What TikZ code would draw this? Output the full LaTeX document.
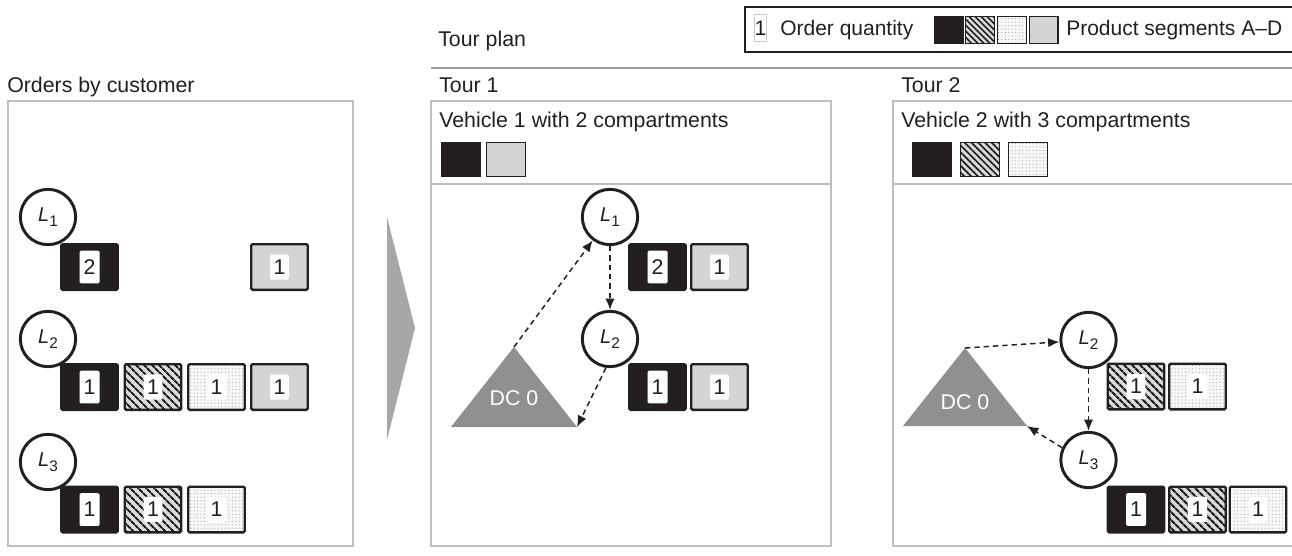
\documentclass[tikz,border=0pt]{standalone}
\usepackage{fontspec}
\setmainfont{Liberation Sans}
\usepackage{tikz}
\usetikzlibrary{positioning,patterns.meta,arrows.meta}

\definecolor{ink}{RGB}{35,31,32}
\definecolor{segDgray}{RGB}{212,212,214}
\definecolor{dcgray}{RGB}{143,144,146}
\definecolor{chevrongray}{RGB}{167,167,169}

\newcommand{\custlabel}[1]{{\itshape L}\raisebox{-3.5pt}{\fontsize{11.5}{12}\selectfont #1}}

\begin{document}
\begin{tikzpicture}[x=0.75pt, y=-0.75pt,
        every node/.style={font=\fontsize{16}{19}\selectfont, text=ink},
        title/.style={anchor=base west, inner sep=0},
        panel/.style={draw=gray!50, line width=1pt},
        cust/.style={circle, draw=ink, line width=2.2pt, fill=white, minimum size=41.5pt, inner sep=0, font=\fontsize{15}{16}\selectfont},
        hatchfill/.style={preaction={fill=gray!30}, pattern={Lines[angle=-45,distance=4pt,line width=1.6pt]}, pattern color=ink},
        dotfill/.style={preaction={fill=gray!6}, pattern={Dots[distance=2.6pt,radius=0.35pt]}, pattern color=gray},
        seg/.style={draw=ink, line width=1.8pt, rounded corners=1pt, minimum width=42.4pt, minimum height=34.2pt, inner sep=0},
        segA/.style={seg, fill=ink},
        segB/.style={seg, hatchfill},
        segC/.style={seg, dotfill},
        segD/.style={seg, fill=segDgray},
        qty/.style={fill=white, inner sep=0, rounded corners=1pt, minimum width=14pt, minimum height=19pt},
        qtyA/.style={qty, minimum width=15pt, minimum height=24.5pt},
        comp/.style={draw=ink, line width=1pt, minimum width=29pt, minimum height=25.3pt, inner sep=0},
        keysq/.style={draw=ink, line width=1pt, minimum width=21.5pt, minimum height=20pt, inner sep=0},
        route/.style={ink, line width=1.1pt, dash pattern=on 4pt off 3pt, -{Latex[length=8.5pt,width=7pt]}},
        dc/.style={fill=dcgray}
    ]
    \useasboundingbox (0,0) rectangle (1292,556);

    % legend
    \draw[ink, line width=1.1pt] (745,7) rectangle (1300,52);
    \node[draw=gray!40, line width=0.5pt, minimum width=8.5pt, minimum height=20pt, inner sep=0, font=\fontsize{15.75}{19}\selectfont] (keyqty) at (760.5,28) {1};
    \node[title, font=\fontsize{15.75}{19}\selectfont] (keyqtytext) at (780,36) {Order quantity};
    \node[keysq, fill=ink] (keyA) at (948.5,30) {};
    \node[keysq, preaction={fill=gray!30}, pattern={Lines[angle=-45,distance=3.2pt,line width=1.2pt]}, pattern color=ink] (keyB) at (980,30) {};
    \node[keysq, dotfill] (keyC) at (1012,30) {};
    \node[keysq, fill=segDgray] (keyD) at (1043.5,30) {};
    \node[title, font=\fontsize{15.75}{19}\selectfont] (keysegtext) at (1066,36) {Product segments A--D};

    % left panel: orders by customer
    \node[title] (orderstitle) at (7,93) {Orders by customer};
    \draw[panel] (8,101) rectangle (353,546);

    \node[cust] (oL1) at (48,217) {\custlabel{1}};
    \node[segA, label={[qtyA]center:2}] (o11) at (89.5,267) {};
    \node[segD, label={[qty]center:1}] (o14) at (279.5,267) {};

    \node[cust] (oL2) at (48,339) {\custlabel{2}};
    \node[segA, label={[qtyA]center:1}] (o21) at (89.5,387) {};
    \node[segB, label={[qty]center:1}] (o22) at (153,387) {};
    \node[segC, label={[qty]center:1}] (o23) at (216.5,387) {};
    \node[segD, label={[qty]center:1}] (o24) at (279.5,387) {};

    \node[cust] (oL3) at (48,462) {\custlabel{3}};
    \node[segA, label={[qtyA]center:1}] (o31) at (89.5,509.5) {};
    \node[segB, label={[qty]center:1}] (o32) at (153,509.5) {};
    \node[segC, label={[qty]center:1}] (o33) at (216.5,509.5) {};

    % big arrow
    \fill[chevrongray] (387,217) -- (415,328) -- (387,440) -- cycle;

    % tour plan
    \node[title] (plantitle) at (438,47) {Tour plan};
    \draw[gray!75, line width=1.5pt] (431,68) -- (1300,68);

    % tour 1
    \node[title] (tour1title) at (439,93) {Tour 1};
    \draw[panel] (431,101) rectangle (831,546);
    \draw[panel] (431,184) -- (831,184);
    \node[title] (veh1title) at (439,128) {Vehicle 1 with 2 compartments};
    \node[comp, fill=ink] (v1A) at (461,159.5) {};
    \node[comp, fill=segDgray] (v1D) at (506,159.5) {};

    \fill[dc] (514,347) coordinate (dc1top) -- (577,427) coordinate (dc1right) -- (451,427) -- cycle;
    \node[text=white] (dc1) at (514,398) {DC 0};

    \node[cust] (t1L1) at (610,217) {\custlabel{1}};
    \node[segA, label={[qtyA]center:2}] (t111) at (657.5,267) {};
    \node[segD, label={[qty]center:1}] (t114) at (719.5,267) {};
    \node[cust] (t1L2) at (610,339) {\custlabel{2}};
    \node[segA, label={[qtyA]center:1}] (t121) at (657.5,387) {};
    \node[segD, label={[qty]center:1}] (t124) at (719.5,387) {};

    \draw[route] (dc1top) -- (t1L1);
    \draw[route] (t1L1) -- (t1L2);
    \draw[route] (t1L2.262) -- (dc1right);

    % tour 2
    \node[title] (tour2title) at (901,93) {Tour 2};
    \draw[panel] (893,101) rectangle (1300,546);
    \draw[panel] (893,184) -- (1300,184);
    \node[title] (veh2title) at (901,128) {Vehicle 2 with 3 compartments};
    \node[comp, fill=ink] (v2A) at (932,159.5) {};
    \node[comp, preaction={fill=gray!30}, pattern={Lines[angle=-45,distance=3.6pt,line width=1.3pt]}, pattern color=ink] (v2B) at (980,159.5) {};
    \node[comp, dotfill] (v2C) at (1028,159.5) {};

    \fill[dc] (965,348) coordinate (dc2top) -- (1027,426) coordinate (dc2right) -- (903,426) -- cycle;
    \node[text=white] (dc2) at (965,402) {DC 0};

    \node[cust] (t2L2) at (1088.5,340) {\custlabel{2}};
    \node[segB, label={[qty]center:1}] (t222) at (1136,386.5) {};
    \node[segC, label={[qty]center:1}] (t223) at (1197.5,386.5) {};
    \node[cust] (t2L3) at (1088.5,460) {\custlabel{3}};
    \node[segA, label={[qtyA]center:1}] (t331) at (1136,509.5) {};
    \node[segB, label={[qty]center:1}] (t332) at (1197.5,509.5) {};
    \node[segC, label={[qty]center:1}] (t333) at (1258,509.5) {};

    \draw[route] (dc2top) -- (t2L2);
    \draw[route] (t2L2) -- (t2L3);
    \draw[route] (t2L3.155) -- (dc2right);

\end{tikzpicture}
\end{document}
